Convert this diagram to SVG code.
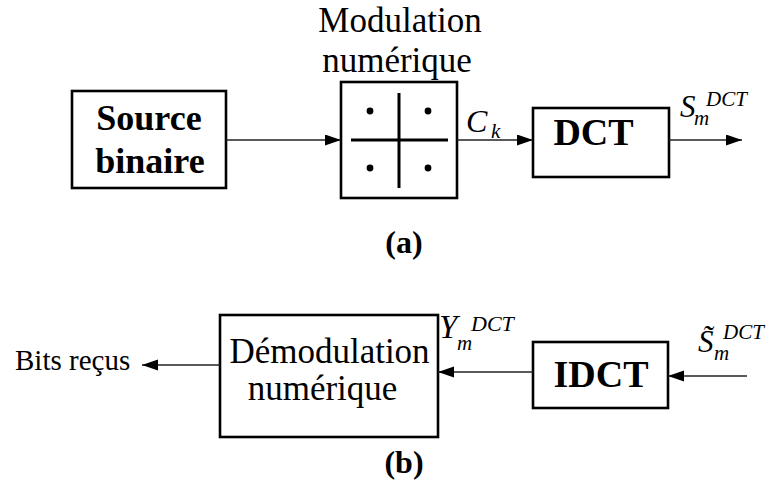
<svg xmlns="http://www.w3.org/2000/svg" width="776" height="496" viewBox="0 0 776 496">
<style>
.box{fill:#fff;stroke:#000;stroke-width:2.6}
.conn{fill:none;stroke:#222;stroke-width:1.3}
.t{font-family:"Liberation Serif","DejaVu Serif",serif;fill:#000}
.b{font-weight:bold}
.i{font-style:italic}
</style>
<defs>
<marker id="ah" markerUnits="userSpaceOnUse" markerWidth="17" markerHeight="12" refX="16" refY="5.5" orient="auto">
<path d="M0,0 L16,5.5 L0,11 z" fill="#000"/>
</marker>
</defs>
<rect width="776" height="496" fill="#fff"/>

<g id="labels-top">
<text class="t" x="400" y="32" font-size="35" text-anchor="middle">Modulation</text>
<text class="t" x="397" y="72" font-size="35" text-anchor="middle">numérique</text>
</g>

<g id="source">
<rect class="box" x="72" y="91" width="154" height="97"/>
<text class="t b" x="149" y="130" font-size="36" text-anchor="middle">Source</text>
<text class="t b" x="150" y="173" font-size="36" text-anchor="middle">binaire</text>
</g>

<g id="modulation">
<rect class="box" x="341" y="82" width="116" height="116"/>
<line x1="351" y1="140" x2="448" y2="140" stroke="#000" stroke-width="3"/>
<line x1="399" y1="93" x2="399" y2="188" stroke="#000" stroke-width="3"/>
<circle cx="370" cy="111" r="3.4" fill="#000"/>
<circle cx="428" cy="111" r="3.4" fill="#000"/>
<circle cx="370" cy="168" r="3.4" fill="#000"/>
<circle cx="428" cy="168" r="3.4" fill="#000"/>
</g>

<g id="dct">
<rect class="box" x="533" y="108" width="136" height="69"/>
<text class="t b" x="593.5" y="145" font-size="38" text-anchor="middle">DCT</text>
</g>

<g id="label-a">
<text class="t b" x="404" y="253" font-size="32" text-anchor="middle">(a)</text>
</g>

<g id="demodulation">
<rect class="box" x="220" y="315" width="218" height="122"/>
<text class="t" x="329.5" y="363" font-size="35" text-anchor="middle">Démodulation</text>
<text class="t" x="322.5" y="400" font-size="35" text-anchor="middle">numérique</text>
</g>

<g id="idct">
<rect class="box" x="533" y="342" width="135" height="66"/>
<text class="t b" x="601" y="387" font-size="38" text-anchor="middle">IDCT</text>
</g>

<g id="bits">
<text class="t" x="15" y="370" font-size="29">Bits reçus</text>
</g>

<g id="label-b">
<text class="t b" x="404" y="473" font-size="32" text-anchor="middle">(b)</text>
</g>

<g id="connectors">
<line class="conn" x1="226" y1="140" x2="341" y2="140" marker-end="url(#ah)"/>
<line class="conn" x1="457" y1="140" x2="533" y2="140" marker-end="url(#ah)"/>
<line class="conn" x1="669" y1="140" x2="742" y2="140" marker-end="url(#ah)"/>
<line class="conn" x1="747" y1="376" x2="668" y2="376" marker-end="url(#ah)"/>
<line class="conn" x1="533" y1="372" x2="438" y2="372" marker-end="url(#ah)"/>
<line class="conn" x1="220" y1="365" x2="142" y2="365" marker-end="url(#ah)"/>
</g>

<g id="math-labels">
<text class="t i" x="466" y="132" font-size="32">C</text>
<text class="t i" x="491" y="138" font-size="21">k</text>

<text class="t i" x="680" y="117" font-size="31">S</text>
<text class="t i" x="694" y="125" font-size="21">m</text>
<text class="t i" x="706" y="106" font-size="21">DCT</text>

<text class="t i" x="439" y="338" font-size="33">Y</text>
<text class="t i" x="457" y="350" font-size="21">m</text>
<text class="t i" x="471" y="331" font-size="22">DCT</text>

<text class="t i" x="698" y="352" font-size="31">S&#x303;</text>
<text class="t i" x="714" y="360" font-size="21">m</text>
<text class="t i" x="723" y="339" font-size="21">DCT</text>
</g>
</svg>
